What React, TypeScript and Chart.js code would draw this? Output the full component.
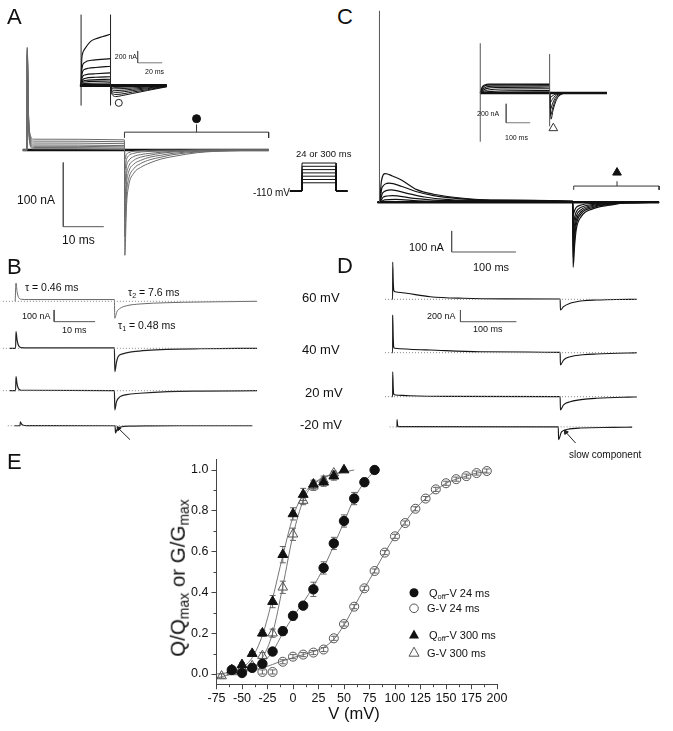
import React, { useEffect, useRef } from 'react';
import { Chart, registerables } from 'chart.js';
Chart.register(...registerables);

const FONT = "'Liberation Sans', Arial, Helvetica, sans-serif";
type Pt = [number, number];

// ---------------- Panel E data (V in mV, normalized values) ----------------
const V_QOFF_24 = [-60, -50, -40, -30, -20, -10, 0, 10, 20, 30, 40, 50, 60, 70, 80];
const QOFF_24 = [0.02, 0.005, 0.03, 0.05, 0.11, 0.21, 0.285, 0.335, 0.415, 0.52, 0.64, 0.75, 0.86, 0.94, 1.0];
const QOFF_24_ERR = [0.01, 0.005, 0.01, 0.015, 0.015, 0.02, 0.02, 0.015, 0.035, 0.03, 0.03, 0.03, 0.03, 0.02, 0];
const V_GV_24 = [-30, -20, -10, 0, 10, 20, 30, 40, 50, 60, 70, 80, 90, 100, 110, 120, 130, 140, 150, 160, 170, 180, 190];
const GV_24 = [0.01, 0.01, 0.06, 0.085, 0.095, 0.105, 0.12, 0.175, 0.245, 0.33, 0.42, 0.505, 0.595, 0.675, 0.74, 0.81, 0.86, 0.905, 0.935, 0.955, 0.97, 0.985, 0.995];
const GV_24_ERR = [0.01, 0.01, 0.01, 0.01, 0.01, 0.01, 0.01, 0.01, 0.01, 0.01, 0.01, 0.01, 0.01, 0.01, 0.01, 0.01, 0.01, 0.01, 0.01, 0.01, 0.01, 0.01, 0.01];
const V_QOFF_300 = [-60, -50, -40, -30, -20, -10, 0, 10, 20, 30, 40, 50];
const QOFF_300 = [0.02, 0.045, 0.1, 0.2, 0.355, 0.585, 0.785, 0.88, 0.93, 0.94, 0.97, 1.0];
const QOFF_300_ERR = [0.01, 0.01, 0.01, 0.015, 0.03, 0.04, 0.03, 0.03, 0.02, 0.02, 0.02, 0];
const V_GV_300 = [-70, -60, -50, -40, -30, -20, -10, 0, 10, 20, 30, 40];
const GV_300 = [-0.01, 0.01, 0.03, 0.04, 0.09, 0.2, 0.425, 0.685, 0.85, 0.92, 0.95, 0.985];
const GV_300_ERR = [0.01, 0.01, 0.01, 0.01, 0.015, 0.02, 0.03, 0.03, 0.02, 0.02, 0.02, 0.01];

// fitted curves
const FIT_QOFF_24: Pt[] = [[-60, 0.01], [-40, 0.03], [-30, 0.055], [-20, 0.11], [-10, 0.2], [0, 0.28], [10, 0.35], [20, 0.43], [30, 0.52], [40, 0.63], [50, 0.745], [60, 0.86], [70, 0.94], [80, 0.995]];
const FIT_GV_24: Pt[] = [[-50, 0.01], [-30, 0.03], [-10, 0.065], [0, 0.08], [10, 0.095], [20, 0.11], [30, 0.13], [40, 0.17], [50, 0.24], [60, 0.33], [70, 0.42], [80, 0.505], [90, 0.595], [100, 0.675], [110, 0.745], [120, 0.81], [130, 0.86], [140, 0.9], [150, 0.935], [160, 0.955], [170, 0.97], [180, 0.985], [190, 0.99]];
const FIT_QOFF_300: Pt[] = [[-75, 0.0], [-60, 0.01], [-50, 0.03], [-40, 0.08], [-30, 0.19], [-20, 0.37], [-10, 0.58], [0, 0.77], [10, 0.88], [20, 0.93], [30, 0.96], [40, 0.98], [50, 0.99]];
const FIT_GV_300: Pt[] = [[-75, -0.02], [-60, 0.0], [-50, 0.01], [-40, 0.03], [-30, 0.08], [-20, 0.2], [-10, 0.43], [0, 0.68], [10, 0.85], [20, 0.93], [30, 0.965], [40, 0.98], [50, 0.99], [60, 1.0]];

const E_X_TICKS = [-75, -50, -25, 0, 25, 50, 75, 100, 125, 150, 175, 200];
const E_X_MINOR = [-62.5, -37.5, -12.5, 12.5, 37.5, 62.5, 87.5, 112.5, 137.5, 162.5, 187.5];
const E_Y_TICKS = [0, 0.2, 0.4, 0.6, 0.8, 1.0];
const E_Y_MINOR = [0.1, 0.3, 0.5, 0.7, 0.9];

// ---------------- Panel A (ms, nA) ----------------
const A_TRACES: Pt[][] = [
  [[-1.1, 0], [-0.1, 0], [0, 160], [0.3, 60], [0.7, 25], [1.5, 17], [24, 16], [24.1, -164], [24.5, -88], [25, -57], [26.3, -36], [28, -27], [30.3, -20], [33, -14], [36, -10], [42, -4], [50, -1], [59.6, 0]],
  [[-1.1, 0], [-0.1, 0], [0, 158], [0.3, 58], [0.7, 22], [1.5, 14], [24, 13], [24.1, -135], [24.5, -70], [25, -46], [26.3, -29], [28, -21], [30.3, -15], [33, -11], [36, -7], [42, -3], [50, -1], [59.6, 0]],
  [[-1.1, 0], [-0.1, 0], [0, 155], [0.3, 55], [0.7, 19], [1.5, 11], [24, 10], [24.1, -105], [24.5, -54], [25, -35], [26.3, -22], [28, -16], [30.3, -11], [33, -8], [36, -5], [42, -2], [50, 0], [59.6, 0]],
  [[-1.1, 0], [-0.1, 0], [0, 152], [0.3, 52], [0.7, 16], [1.5, 8], [24, 7], [24.1, -78], [24.5, -40], [25, -26], [26.3, -16], [28, -11], [30.3, -8], [33, -5], [36, -3], [42, -1], [50, 0], [59.6, 0]],
  [[-1.1, 0], [-0.1, 0], [0, 150], [0.3, 50], [0.7, 13], [1.5, 6], [24, 5], [24.1, -52], [24.5, -26], [25, -17], [26.3, -10], [28, -7], [30.3, -5], [36, -2], [42, 0], [59.6, 0]],
  [[-1.1, 0], [-0.1, 0], [0, 148], [0.3, 48], [0.7, 10], [1.5, 4], [24, 3], [24.1, -30], [24.5, -15], [25, -9], [26.3, -5], [30.3, -2], [36, -1], [42, 0], [59.6, 0]],
  [[-1.1, 0], [-0.1, 0], [0, 146], [0.3, 45], [0.7, 8], [1.5, 2], [24, 1], [24.1, -14], [24.5, -7], [25, -4], [28, -1], [33, 0], [59.6, 0]],
];
const A_BASE: Pt[] = [[-1.1, 0], [59.6, 0]];
const A_BRACKET: Pt[] = [[24, 19], [24, 28], [59.6, 28], [59.6, 19]];
const A_STEM: Pt[] = [[41.8, 28], [41.8, 40]];
const A_MARK: Pt[] = [[41.8, 49]];
const A_SCALE: Pt[] = [[8.9, -19.4], [8.9, -119.4], [18.9, -119.4]];

// inset of A (ms, nA)
const AI_ON: Pt[][] = [
  [[0, 0], [0.5, 420], [1.5, 560], [3, 620], [7.4, 740], [12, 790], [17, 825], [24, 866]],
  [[0, 0], [0.5, 250], [2.5, 385], [9.9, 430], [24, 455]],
  [[0, 0], [0.5, 160], [2.5, 270], [12, 305], [24, 328]],
  [[0, 0], [0.5, 110], [3, 180], [12, 200], [24, 215]],
  [[0, 0], [0.5, 70], [3, 120], [12, 140], [24, 150]],
  [[0, 0], [0.5, 50], [3, 85], [24, 108]],
  [[0, 0], [0.5, 35], [3, 60], [24, 77]],
  [[0, 0], [0.5, 20], [3, 35], [24, 46]],
  [[0, 0], [3, 15], [24, 23]],
];
const AI_TAIL: Pt[][] = [
  [[24, 0], [24.6, -120], [28.4, -185], [33, -170], [41.7, -134], [54.3, -82], [69.9, -20]],
  [[24, 0], [24.6, -100], [28.4, -150], [41.7, -110], [54.3, -68], [69.9, -15]],
  [[24, 0], [24.6, -80], [28.4, -115], [41.7, -85], [54.3, -52], [69.9, -12]],
  [[24, 0], [24.6, -60], [28.4, -85], [41.7, -62], [54.3, -38], [69.9, -8]],
  [[24, 0], [24.6, -40], [28.4, -55], [41.7, -40], [54.3, -24], [69.9, -5]],
  [[24, 0], [24.6, -20], [28.4, -30], [41.7, -20], [54.3, -12], [69.9, -2]],
];
const AI_BASE: Pt[] = [[-1, 0], [69.9, 0]];
const AI_ON_EDGE: Pt[] = [[0, -338], [0, 1200]];
const AI_OFF_EDGE: Pt[] = [[24, -338], [24, 1200]];
const AI_MARK: Pt[] = [[30.7, -292]];
const AI_SCALE: Pt[] = [[46.1, 585], [46.1, 385], [66.1, 385]];

// voltage protocol (ms, mV)
const PROTO_LEVELS = [-60, -40, -20, 0, 20, 40, 60];
const PROTO_HOLD = -110;
const PROTO_TIMES = [-8.5, 0, 24, 32];

// ---------------- Panel B (ms, nA), one array per row ----------------
const B_ROW1: Pt[] = [[-0.2, 0], [0, 156], [0.25, 85], [0.5, 45], [0.8, 25], [1.3, 17], [3, 15], [24, 15], [24.1, -145], [24.6, -90], [25.4, -60], [27, -38], [30.2, -23], [36.8, -12], [44.9, -6], [58.8, 0]];
const B_ROW2: Pt[] = [[-1.5, 0], [-0.1, 0], [0, 142], [0.25, 75], [0.5, 35], [0.8, 14], [1.3, 6], [3, 4], [24, 3], [24.1, -200], [24.5, -120], [24.9, -72], [26, -48], [28.6, -29], [32, -17], [36.8, -9], [45, -4], [58.8, 0]];
const B_ROW3: Pt[] = [[-1.5, 0], [-0.1, 0], [0, 120], [0.25, 60], [0.5, 25], [0.8, 10], [1.3, 4], [24, 1], [24.1, -165], [24.5, -95], [25.4, -51], [27, -33], [30.2, -22], [37, -8], [45, -3], [58.8, 0]];
const B_ROW4: Pt[] = [[-1.5, 0], [-0.1, 0], [0, 43], [0.3, 18], [0.7, 6], [1.5, 1], [24, 0], [24.1, -83], [24.5, -40], [25.4, -15], [28, -5], [33, -2], [40, 0], [58.8, 0]];
const B_ZERO: Pt[] = [[-3.2, 0], [59, 0]];
const B_SCALE: Pt[] = [[9.3, -74], [9.3, -174], [19.3, -174]];
const B_ARROW: Pt[] = [[27.8, -160], [24.9, -32]];

// ---------------- Panel C (ms, nA) ----------------
const C_TRACES: Pt[][] = [
  [[-3, 0], [0, 0], [3, 100], [9, 136], [20, 125], [34, 106], [58, 60], [84, 38], [134, 18], [183, 10], [300, 5], [300.5, -309], [303, -200], [305.5, -128], [313, -68], [332, -30], [357, -14], [382, -3], [434, 0]],
  [[-3, 0], [0, 0], [4, 70], [15, 91], [35, 75], [58, 50], [84, 32], [134, 15], [183, 8], [300, 4], [300.5, -260], [303, -165], [305.5, -105], [313, -55], [332, -24], [357, -10], [382, -2], [434, 0]],
  [[-3, 0], [0, 0], [5, 45], [18, 59], [40, 45], [70, 25], [134, 10], [300, 3], [300.5, -210], [303, -130], [305.5, -85], [313, -45], [332, -19], [357, -8], [382, -2], [434, 0]],
  [[-3, 0], [0, 0], [6, 25], [20, 32], [50, 20], [100, 8], [300, 2], [300.5, -160], [303, -100], [305.5, -65], [313, -35], [332, -14], [357, -6], [382, -1], [434, 0]],
  [[-3, 0], [0, 0], [8, 11], [25, 14], [60, 7], [150, 2], [300, 1], [300.5, -110], [303, -70], [305.5, -45], [313, -24], [332, -10], [357, -4], [434, 0]],
  [[-3, 0], [300, 0], [300.5, -60], [303, -38], [305.5, -24], [313, -13], [332, -5], [357, -2], [434, 0]],
];
const C_BASE: Pt[] = [[-3, 0], [434, 0]];
const C_SPIKE: Pt[] = [[0, 0], [0, 909]];
const C_BRACKET: Pt[] = [[301.5, 59], [301.5, 77], [434, 77], [434, 59]];
const C_STEM: Pt[] = [[368.7, 77], [368.7, 100]];
const C_MARK: Pt[] = [[368.7, 141]];
const C_SCALE: Pt[] = [[112, -136], [112, -236], [212, -236]];

// inset of C (ms, nA)
const CI_ON: Pt[][] = [
  [[0, 0], [8, 60], [20, 85], [40, 93], [300, 95]],
  [[0, 0], [8, 50], [20, 75], [45, 85], [300, 88]],
  [[0, 0], [10, 40], [25, 62], [55, 72], [300, 76]],
  [[0, 0], [12, 28], [30, 48], [70, 58], [300, 62]],
  [[0, 0], [15, 18], [40, 33], [90, 42], [300, 45]],
  [[0, 0], [20, 8], [50, 17], [120, 23], [300, 25]],
  [[0, 0], [30, 3], [100, 8], [300, 10]],
];
const CI_TAIL: Pt[][] = [
  [[300, 0], [306, -276], [315, -180], [330, -70], [350, -15], [380, 0]],
  [[300, 0], [305, -230], [314, -150], [328, -60], [350, -12], [380, 0]],
  [[300, 0], [304, -170], [312, -115], [326, -45], [350, -8], [380, 0]],
  [[300, 0], [303, -100], [311, -70], [325, -28], [350, -5], [380, 0]],
  [[300, 0], [302, -50], [310, -35], [324, -14], [350, -2], [380, 0]],
];
const CI_BASE: Pt[] = [[0, 0], [548, 0]];
const CI_ON_EDGE: Pt[] = [[0, -514], [0, 524]];
const CI_OFF_EDGE: Pt[] = [[300, -352], [300, 410]];
const CI_MARK: Pt[] = [[316, -371]];
const CI_SCALE: Pt[] = [[112, -114], [112, -314], [216, -314]];

// ---------------- Panel D (ms, nA), one array per row ----------------
const D_ROW1: Pt[] = [[-1, 0], [-0.05, 0], [0, 638], [1, 300], [2, 150], [4, 130], [25, 103], [67, 44], [126, 17], [200, 8], [299, 5], [299.5, -183], [305, -126], [317, -68], [340, -24], [364, -12], [400, -3], [436, 0]];
const D_ROW2: Pt[] = [[-1, 0], [-0.05, 0], [0, 644], [1, 250], [2, 90], [4, 75], [30, 60], [67, 46], [156, 17], [299, 5], [299.5, -210], [305, -125], [317, -68], [340, -35], [364, -22], [420, -5], [436, -2]];
const D_ROW3: Pt[] = [[-1, 0], [-0.05, 0], [0, 427], [1, 150], [2, 40], [5, 29], [30, 15], [100, 5], [299, 2], [299.5, -227], [305, -140], [317, -85], [340, -45], [364, -27], [420, -8], [436, -5]];
const D_ROW4: Pt[] = [[-1, 0], [-0.05, 0], [0, 159], [1, 40], [3, 5], [299, 0], [299.5, -280], [305, -110], [317, -51], [340, -24], [400, -10], [436, -5]];
const D_ZERO: Pt[] = [[-13.8, 0], [436, 0]];
const D_SCALE: Pt[] = [[121, -183], [121, -383], [221, -383]];
const D_ARROW: Pt[] = [[331, -354], [313, -115]];

// ---------------- generic trace chart ----------------
type TraceSet = {
  pts: Pt[];
  color?: string;
  width?: number;
  dash?: number[];
  straight?: boolean;
  marker?: { style: string; r: number; fill: string; rot?: number; headOnly?: boolean };
};

function TraceChart({ box, map, sets }: { box: [number, number, number, number]; map: [number, number, number, number]; sets: TraceSet[] }) {
  const ref = useRef<HTMLCanvasElement>(null);
  useEffect(() => {
    const [L, T, W, H] = box;
    const [x0, kx, y0, ky] = map;
    const chart = new Chart(ref.current as HTMLCanvasElement, {
      type: 'scatter',
      data: {
        datasets: sets.map((s) => {
          const m = s.marker;
          const n = s.pts.length;
          return {
            data: s.pts.map(([x, y]) => ({ x, y })),
            showLine: n > 1,
            borderColor: s.color ?? '#111',
            borderWidth: s.width ?? 1,
            borderDash: s.dash ?? [],
            cubicInterpolationMode: s.straight ? 'default' : 'monotone',
            tension: 0,
            pointRadius: m ? (m.headOnly ? s.pts.map((_, i) => (i === n - 1 ? m.r : 0)) : m.r) : 0,
            pointStyle: m ? m.style : 'circle',
            pointRotation: m?.rot ?? 0,
            pointBackgroundColor: m ? m.fill : 'transparent',
            pointBorderColor: s.color ?? '#111',
            pointBorderWidth: 1,
            clip: false,
          } as any;
        }),
      },
      options: {
        animation: false,
        responsive: false,
        maintainAspectRatio: false,
        events: [],
        layout: { padding: 0 },
        plugins: { legend: { display: false }, tooltip: { enabled: false } },
        scales: {
          x: { type: 'linear', display: false, min: (L - x0) / kx, max: (L + W - x0) / kx },
          y: { type: 'linear', display: false, min: (y0 - (T + H)) / ky, max: (y0 - T) / ky },
        },
      } as any,
    });
    return () => chart.destroy();
  }, []);
  const [L, T, W, H] = box;
  return <canvas ref={ref} width={W} height={H} style={{ position: 'absolute', left: L, top: T, width: W, height: H }} />;
}

// ---------------- panel E chart ----------------
const AXIS = '#444';

const errorBarPlugin = {
  id: 'errbars',
  beforeDatasetsDraw(chart: any) {
    const ctx = chart.ctx;
    const ys = chart.scales.y;
    chart.data.datasets.forEach((ds: any, i: number) => {
      if (!ds.errors) return;
      const meta = chart.getDatasetMeta(i);
      ctx.save();
      ctx.strokeStyle = '#555';
      ctx.lineWidth = 0.9;
      meta.data.forEach((pt: any, j: number) => {
        const e = ds.errors[j];
        if (!e) return;
        const v = ds.data[j].y;
        const top = ys.getPixelForValue(v + e);
        const bot = ys.getPixelForValue(v - e);
        ctx.beginPath();
        ctx.moveTo(pt.x, top);
        ctx.lineTo(pt.x, bot);
        ctx.moveTo(pt.x - 3, top);
        ctx.lineTo(pt.x + 3, top);
        ctx.moveTo(pt.x - 3, bot);
        ctx.lineTo(pt.x + 3, bot);
        ctx.stroke();
      });
      ctx.restore();
    });
  },
};

const minorTickPlugin = {
  id: 'minorticks',
  afterDraw(chart: any) {
    const { ctx } = chart;
    const x = chart.scales.x;
    const y = chart.scales.y;
    ctx.save();
    ctx.strokeStyle = AXIS;
    ctx.lineWidth = 1;
    ctx.beginPath();
    E_X_MINOR.forEach((v) => {
      const px = Math.round(x.getPixelForValue(v)) + 0.5;
      ctx.moveTo(px, y.bottom);
      ctx.lineTo(px, y.bottom + 3);
    });
    E_Y_MINOR.forEach((v) => {
      const py = Math.round(y.getPixelForValue(v)) + 0.5;
      ctx.moveTo(x.left, py);
      ctx.lineTo(x.left - 3, py);
    });
    ctx.stroke();
    ctx.restore();
  },
};

function zip(xs: number[], ys: number[]) {
  return xs.map((x, i) => ({ x, y: ys[i] }));
}

function PanelE() {
  const ref = useRef<HTMLCanvasElement>(null);
  useEffect(() => {
    const fit = (pts: Pt[]) => ({
      data: pts.map(([x, y]) => ({ x, y })),
      showLine: true,
      borderColor: '#666',
      borderWidth: 0.9,
      pointRadius: 0,
      cubicInterpolationMode: 'monotone',
      order: 10,
    });
    const markers = (xs: number[], ys: number[], errs: number[], style: string, r: number, fill: string, stroke: string, order: number) => ({
      data: zip(xs, ys),
      errors: errs,
      showLine: false,
      pointStyle: style,
      pointRadius: r,
      pointBackgroundColor: fill,
      pointBorderColor: stroke,
      pointBorderWidth: 1,
      order,
    });
    const tickFont = { family: FONT, size: 12.5 };
    const chart = new Chart(ref.current as HTMLCanvasElement, {
      type: 'scatter',
      data: {
        datasets: [
          fit(FIT_GV_24),
          fit(FIT_GV_300),
          fit(FIT_QOFF_24),
          fit(FIT_QOFF_300),
          markers(V_GV_24, GV_24, GV_24_ERR, 'circle', 4.5, 'rgba(255,255,255,0)', '#555', 4),
          markers(V_GV_300, GV_300, GV_300_ERR, 'triangle', 5.5, 'rgba(255,255,255,0)', '#555', 3),
          markers(V_QOFF_24, QOFF_24, QOFF_24_ERR, 'circle', 4.7, '#111', '#111', 2),
          markers(V_QOFF_300, QOFF_300, QOFF_300_ERR, 'triangle', 5.7, '#111', '#111', 1),
        ] as any,
      },
      options: {
        animation: false,
        responsive: false,
        maintainAspectRatio: false,
        events: [],
        layout: { padding: { top: 14.8, right: 13, left: 0, bottom: 0 } },
        plugins: { legend: { display: false }, tooltip: { enabled: false } },
        scales: {
          x: {
            type: 'linear',
            min: -75,
            max: 200,
            afterBuildTicks: (s: any) => {
              s.ticks = E_X_TICKS.map((v) => ({ value: v }));
            },
            afterFit: (s: any) => {
              s.height = 46.8;
            },
            grid: { drawOnChartArea: false, drawTicks: true, tickLength: 5, color: AXIS },
            border: { display: true, color: AXIS, width: 1 },
            ticks: { font: tickFont, color: '#111', padding: 2, maxRotation: 0, autoSkip: false, callback: (v: any) => String(v) },
          },
          y: {
            type: 'linear',
            min: -0.05,
            max: 1.05,
            afterBuildTicks: (s: any) => {
              s.ticks = E_Y_TICKS.map((v) => ({ value: v }));
            },
            afterFit: (s: any) => {
              s.width = 66.5;
            },
            grid: { drawOnChartArea: false, drawTicks: true, tickLength: 5, color: AXIS },
            border: { display: true, color: AXIS, width: 1 },
            ticks: { font: tickFont, color: '#111', padding: 3, autoSkip: false, callback: (v: any) => Number(v).toFixed(1) },
          },
        },
      } as any,
      plugins: [errorBarPlugin, minorTickPlugin],
    });
    return () => chart.destroy();
  }, []);
  return <canvas ref={ref} width={360} height={286} style={{ position: 'absolute', left: 150, top: 445, width: 360, height: 286 }} />;
}

// ---------------- text helpers ----------------
function Label({ x, y, size, anchor = 'l', children }: { x: number; y: number; size: number; anchor?: string; children: any }) {
  const tx = anchor === 'c' ? '-50%' : anchor === 'r' ? '-100%' : '0';
  return (
    <div style={{ position: 'absolute', left: x, top: y, transform: `translate(${tx}, -50%)`, fontSize: size, fontFamily: FONT, lineHeight: 1, whiteSpace: 'nowrap', color: '#111' }}>
      {children}
    </div>
  );
}
const Sub = ({ children }: { children: any }) => <span style={{ fontSize: '0.68em', verticalAlign: '-0.3em', lineHeight: 0 }}>{children}</span>;

const line = (pts: Pt[], color = '#111', width = 1, extra: Partial<TraceSet> = {}): TraceSet => ({ pts, color, width, ...extra });

export default function App() {
  const protoSets: TraceSet[] = PROTO_LEVELS.map((v) => ({
    pts: [[PROTO_TIMES[0], PROTO_HOLD], [PROTO_TIMES[1], PROTO_HOLD], [PROTO_TIMES[1], v], [PROTO_TIMES[2], v], [PROTO_TIMES[2], PROTO_HOLD], [PROTO_TIMES[3], PROTO_HOLD]] as Pt[],
    color: '#111',
    width: 1,
    straight: true,
  }));

  const aSets: TraceSet[] = [
    ...A_TRACES.map((t) => line(t, '#6a6a6a', 1)),
    line(A_BASE, '#111', 2.5, { straight: true }),
    line(A_BRACKET, '#333', 1, { straight: true }),
    line(A_STEM, '#333', 1, { straight: true }),
    { pts: A_MARK, color: '#111', marker: { style: 'circle', r: 4, fill: '#111' } },
    line(A_SCALE, '#555', 1, { straight: true }),
  ];
  const aiSets: TraceSet[] = [
    line(AI_ON_EDGE, '#222', 1, { straight: true }),
    line(AI_OFF_EDGE, '#222', 1, { straight: true }),
    ...AI_ON.map((t) => line(t, '#111', 1.1)),
    ...AI_TAIL.map((t) => line(t, '#111', 1)),
    line(AI_BASE, '#111', 3, { straight: true }),
    { pts: AI_MARK, color: '#222', marker: { style: 'circle', r: 3.5, fill: '#fff' } },
    line(AI_SCALE, '#555', 0.8, { straight: true }),
  ];
  const cSets: TraceSet[] = [
    line(C_SPIKE, '#555', 1, { straight: true }),
    ...C_TRACES.map((t) => line(t, '#111', 1.2)),
    line(C_BASE, '#111', 2.5, { straight: true }),
    line(C_BRACKET, '#333', 1, { straight: true }),
    line(C_STEM, '#333', 1, { straight: true }),
    { pts: C_MARK, color: '#111', marker: { style: 'triangle', r: 5, fill: '#111' } },
    line(C_SCALE, '#555', 1, { straight: true }),
  ];
  const ciSets: TraceSet[] = [
    line(CI_ON_EDGE, '#555', 1, { straight: true }),
    line(CI_OFF_EDGE, '#555', 1, { straight: true }),
    ...CI_ON.map((t) => line(t, '#111', 1.1)),
    ...CI_TAIL.map((t) => line(t, '#111', 1)),
    line(CI_BASE, '#111', 2.5, { straight: true }),
    { pts: CI_MARK, color: '#333', marker: { style: 'triangle', r: 5, fill: '#fff' } },
    line(CI_SCALE, '#555', 0.8, { straight: true }),
  ];
  const dotted = (pts: Pt[]) => line(pts, '#888', 1, { dash: [1, 2], straight: true });

  return (
    <div style={{ position: 'absolute', left: 0, top: 0, width: 673, height: 731, overflow: 'hidden', background: '#fff' }}>
      {/* Panel A */}
      <TraceChart box={[10, 35, 280, 235]} map={[22.7, 4.2, 150, 0.67]} sets={aSets} />
      <TraceChart box={[70, 5, 110, 112]} map={[76.7, 1.35, 88, 0.065]} sets={aiSets} />
      <TraceChart box={[283, 158, 70, 38]} map={[302, 1.42, 172.9, 0.1647]} sets={protoSets} />
      {/* Panel B */}
      <TraceChart box={[0, 276, 265, 54]} map={[16, 4.1, 301.3, 0.117]} sets={[dotted(B_ZERO), line(B_ROW1, '#6a6a6a', 1), line(B_SCALE, '#555', 1, { straight: true })]} />
      <TraceChart box={[0, 325, 265, 55]} map={[16, 4.1, 348.3, 0.117]} sets={[dotted(B_ZERO), line(B_ROW2, '#222', 1.2)]} />
      <TraceChart box={[0, 370, 265, 45]} map={[16, 4.1, 390.7, 0.117]} sets={[dotted(B_ZERO), line(B_ROW3, '#222', 1.2)]} />
      <TraceChart box={[0, 410, 265, 40]} map={[16, 4.1, 424.3, 0.117]} sets={[dotted(B_ZERO), line(B_ROW4, '#222', 1.2), { pts: B_ARROW, color: '#222', width: 1, straight: true, marker: { style: 'triangle', r: 2.5, fill: '#222', rot: -38.7, headOnly: true } }]} />
      {/* Panel C */}
      <TraceChart box={[360, 0, 313, 282]} map={[374, 0.67, 205, 0.22]} sets={cSets} />
      <TraceChart box={[465, 30, 160, 125]} map={[475, 0.25, 93, 0.105]} sets={ciSets} />
      {/* Panel D */}
      <TraceChart box={[375, 255, 270, 70]} map={[392.7, 0.56, 299.3, 0.0585]} sets={[dotted(D_ZERO), line(D_ROW1, '#111', 1.1), line(D_SCALE, '#555', 1, { straight: true })]} />
      <TraceChart box={[375, 308, 270, 65]} map={[392.7, 0.56, 352.7, 0.0585]} sets={[dotted(D_ZERO), line(D_ROW2, '#111', 1.1)]} />
      <TraceChart box={[375, 365, 270, 50]} map={[392.7, 0.56, 396.7, 0.0585]} sets={[dotted(D_ZERO), line(D_ROW3, '#111', 1.1)]} />
      <TraceChart box={[375, 410, 270, 45]} map={[392.7, 0.56, 425.3, 0.0585]} sets={[dotted(D_ZERO), line(D_ROW4, '#111', 1.1), { pts: D_ARROW, color: '#222', width: 1, straight: true, marker: { style: 'triangle', r: 2.5, fill: '#222', rot: -35.5, headOnly: true } }]} />
      {/* Panel E */}
      <PanelE />

      {/* panel letters */}
      <Label x={7} y={17} size={22}>A</Label>
      <Label x={7} y={267} size={22}>B</Label>
      <Label x={337} y={17} size={22}>C</Label>
      <Label x={337} y={266} size={22}>D</Label>
      <Label x={7} y={462} size={22}>E</Label>

      {/* A annotations */}
      <Label x={137} y={56} size={7} anchor="r">200 nA</Label>
      <Label x={145} y={71} size={7}>20 ms</Label>
      <Label x={17} y={200} size={12}>100 nA</Label>
      <Label x={62} y={240} size={12}>10 ms</Label>
      <Label x={290} y={193} size={10} anchor="r">-110 mV</Label>
      <Label x={296} y={154} size={9.5}>24 or 300 ms</Label>

      {/* B annotations */}
      <Label x={25} y={287} size={10.5}>τ = 0.46 ms</Label>
      <Label x={128} y={292} size={10.5}>τ<Sub>2</Sub> = 7.6 ms</Label>
      <Label x={118} y={325} size={10.5}>τ<Sub>1</Sub> = 0.48 ms</Label>
      <Label x={22} y={316} size={9}>100 nA</Label>
      <Label x={62} y={330} size={9}>10 ms</Label>
      <Label x={302} y={297} size={13}>60 mV</Label>
      <Label x={302} y={349} size={13}>40 mV</Label>
      <Label x={305} y={392} size={13}>20 mV</Label>
      <Label x={300} y={424} size={13}>-20 mV</Label>

      {/* C annotations */}
      <Label x={477} y={113} size={7}>200 nA</Label>
      <Label x={505} y={137} size={7}>100 ms</Label>
      <Label x={409} y={247} size={11}>100 nA</Label>
      <Label x={473} y={267} size={11}>100 ms</Label>

      {/* D annotations */}
      <Label x={427} y={316} size={9}>200 nA</Label>
      <Label x={473} y={329} size={9}>100 ms</Label>
      <Label x={569} y={455} size={10}>slow component</Label>

      {/* E axis titles */}
      <Label x={354} y={713} size={16.5} anchor="c">V (mV)</Label>
      <div style={{ position: 'absolute', left: 178, top: 578, transform: 'translate(-50%, -50%) rotate(-90deg)', fontSize: 20.5, fontFamily: FONT, lineHeight: 1, whiteSpace: 'nowrap', color: '#111' }}>
        Q/Q<Sub>max</Sub> or G/G<Sub>max</Sub>
      </div>

      {/* E legend */}
      <svg style={{ position: 'absolute', left: 408, top: 586 }} width={12} height={72}>
        <circle cx={6} cy={6.7} r={4.5} fill="#111" />
        <circle cx={6} cy={22.3} r={4.3} fill="none" stroke="#555" strokeWidth={1} />
        <polygon points="6,43.5 11,52.5 1,52.5" fill="#111" />
        <polygon points="6,61.2 11,70.2 1,70.2" fill="none" stroke="#555" strokeWidth={1} />
      </svg>
      <Label x={429} y={593} size={11}>Q<Sub>off</Sub>-V 24 ms</Label>
      <Label x={427} y={608} size={11}>G-V 24 ms</Label>
      <Label x={429} y={635} size={11}>Q<Sub>off</Sub>-V 300 ms</Label>
      <Label x={427} y={653} size={11}>G-V 300 ms</Label>
    </div>
  );
}
